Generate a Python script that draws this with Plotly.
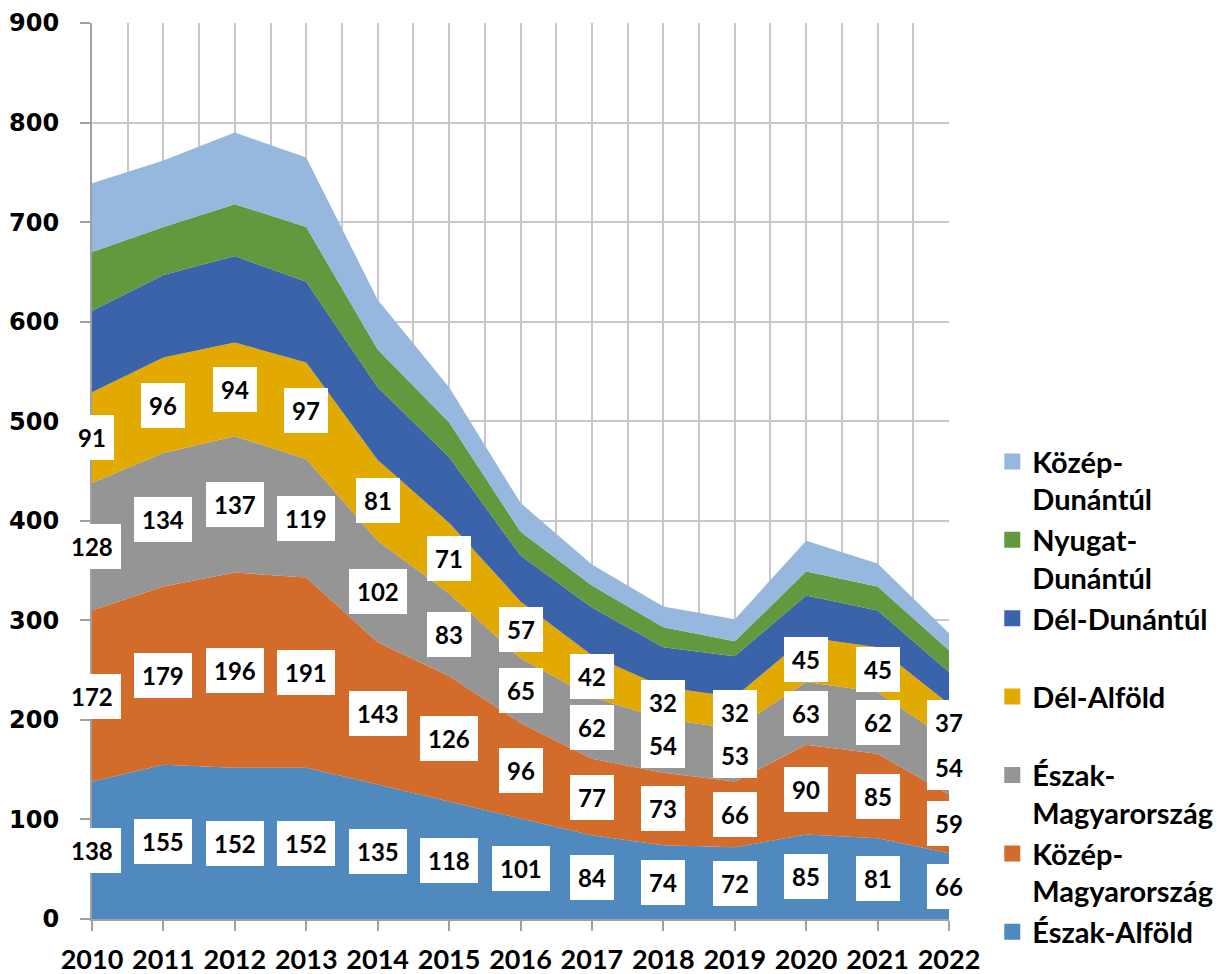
import plotly.graph_objects as go

years = list(range(2010, 2023))
eszak_alfold = [138, 155, 152, 152, 135, 118, 101, 84, 74, 72, 85, 81, 66]
kozep_magyarorszag = [172, 179, 196, 191, 143, 126, 96, 77, 73, 66, 90, 85, 59]
eszak_magyarorszag = [128, 134, 137, 119, 102, 83, 65, 62, 54, 53, 63, 62, 54]
del_alfold = [91, 96, 94, 97, 81, 71, 57, 42, 32, 32, 45, 45, 37]
del_dunantul = [82, 83, 87, 81, 73, 66, 46, 48, 40, 41, 42, 37, 32]
nyugat_dunantul = [59, 48, 52, 55, 38, 35, 24, 22, 20, 15, 24, 24, 22]
kozep_dunantul = [69, 67, 72, 70, 50, 35, 29, 21, 21, 22, 31, 23, 17]

series = [
    ("Észak-Alföld", "Észak-Alföld", eszak_alfold, "#4f89bd", True),
    ("Közép-Magyarország", "Közép-<br>Magyarország", kozep_magyarorszag, "#d36b2a", True),
    ("Észak-Magyarország", "Észak-<br>Magyarország", eszak_magyarorszag, "#959595", True),
    ("Dél-Alföld", "Dél-Alföld<br>\u00a0", del_alfold, "#e2a900", True),
    ("Dél-Dunántúl", "Dél-Dunántúl<br>\u00a0", del_dunantul, "#3b63a9", False),
    ("Nyugat-Dunántúl", "Nyugat-<br>Dunántúl", nyugat_dunantul, "#62993e", False),
    ("Közép-Dunántúl", "Közép-<br>Dunántúl", kozep_dunantul, "#97b8de", False),
]

fig = go.Figure()
annotations = []
base = [0] * len(years)
for name, legname, vals, color, labeled in series:
    fig.add_trace(go.Scatter(
        x=years, y=vals, name=name, stackgroup="one", mode="none",
        fillcolor=color, line=dict(width=0), showlegend=False, hoverinfo="x+y+name",
    ))
    if labeled:
        for i, (yr, v) in enumerate(zip(years, vals)):
            annotations.append(dict(
                x=yr, y=base[i] + v / 2, text=str(v), showarrow=False,
                bgcolor="white", borderpad=8, borderwidth=0,
                font=dict(family="Lato", size=24, color="black", weight="bold"),
            ))
    base = [b + v for b, v in zip(base, vals)]

# legend entries (top to bottom)
for name, legname, vals, color, labeled in reversed(series):
    fig.add_trace(go.Scatter(
        x=[None], y=[None], mode="markers", name=legname, legendgroup=name,
        marker=dict(symbol="square", size=16, color=color),
        showlegend=True,
    ))

grid_col = "#c8c8c8"
fig.update_layout(
    width=1230, height=974,
    margin=dict(l=92, r=267, t=23, b=55),
    paper_bgcolor="white", plot_bgcolor="white",
    annotations=annotations,
    showlegend=True,
    legend=dict(
        x=1.0505, xanchor="left", y=0.539, yanchor="top",
        traceorder="grouped", tracegroupgap=0, valign="top",
        font=dict(family="Lato", size=29, color="black", weight="bold"),
        bgcolor="rgba(0,0,0,0)", itemsizing="trace",
    ),
    xaxis=dict(
        range=[2010, 2022], tickvals=years, ticktext=[str(y) for y in years],
        showgrid=True, gridcolor=grid_col, gridwidth=2,
        minor=dict(dtick=0.5, tick0=2010, showgrid=True, gridcolor=grid_col, gridwidth=2),
        ticks="outside", ticklen=10, tickcolor="#a0a0a0", tickwidth=2,
        showline=True, linecolor="#a0a0a0", linewidth=2,
        tickfont=dict(family="Lato", size=27, color="black", weight="bold"),
        ticklabelstandoff=6, automargin=False, zeroline=False,
    ),
    yaxis=dict(
        range=[0, 900], dtick=100, tick0=0,
        showgrid=True, gridcolor=grid_col, gridwidth=2,
        ticks="outside", ticklen=10, tickcolor="#a0a0a0", tickwidth=2,
        showline=True, linecolor="#a0a0a0", linewidth=2,
        tickfont=dict(family="DejaVu Sans", size=24, color="black", weight="bold"),
        ticklabelstandoff=16, automargin=False, zeroline=False,
    ),
)

fig.write_html(
    "out.html",
    config={"displayModeBar": False},
    post_script=(
        "document.documentElement.style.margin='0';"
        "document.documentElement.style.overflow='hidden';"
        "document.body.style.margin='0';"
        "document.body.style.overflow='hidden';"
    ),
)
